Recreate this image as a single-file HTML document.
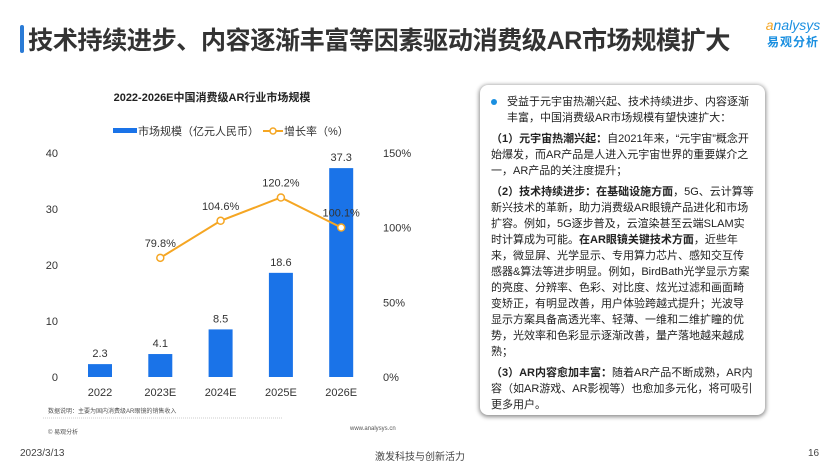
<!DOCTYPE html>
<html><head><meta charset="utf-8">
<style>
body{margin:0;width:840px;height:473px;overflow:hidden;background:#fff;font-family:"Liberation Sans","Noto Sans CJK SC",sans-serif;position:relative}
.abs{position:absolute}
#box p{margin:0 0 5px 0}
</style></head><body>
<div class="abs" style="left:20px;top:25px;width:4px;height:28px;background:#2a7bd6;border-radius:2px"></div>
<div class="abs" style="left:28px;top:21px;font-size:25.2px;font-weight:bold;color:#333;letter-spacing:-0.5px;white-space:nowrap">技术持续进步、内容逐渐丰富等因素驱动消费级AR市场规模扩大</div>
<div class="abs" style="left:758px;top:18px;width:70px;text-align:center;line-height:1">
<div style="font-size:14px;color:#1a8fe0;font-style:italic"><span style="color:#f5a623">a</span>nalysys</div>
<div style="font-size:12px;color:#1a8fe0;font-weight:bold;margin-top:4px;letter-spacing:1px">易观分析</div></div>

<svg class="abs" style="left:0;top:0" width="470" height="473">
<text x="212" y="101" text-anchor="middle" font-size="11" font-weight="bold" fill="#222">2022-2026E中国消费级AR行业市场规模</text>
<rect x="113" y="128" width="24" height="5" fill="#1a73e8"/>
<text x="138" y="135" font-size="11" fill="#333">市场规模（亿元人民币）</text>
<line x1="263" y1="131" x2="283" y2="131" stroke="#f5a623" stroke-width="2"/>
<circle cx="273" cy="131" r="3" fill="#fff" stroke="#f5a623" stroke-width="1.5"/>
<text x="284" y="135" font-size="11" fill="#333">增长率（%）</text>
<g id="chart"></g>
<text x="48" y="413" font-size="6" fill="#555">数据说明：主要为国内消费级AR眼镜的销售收入</text>
<line x1="43" y1="418" x2="283" y2="418" stroke="#999" stroke-dasharray="1,1" stroke-width="0.6"/>
<text x="48" y="434" font-size="6" fill="#555">© 易观分析</text>
<text x="350" y="430" font-size="6" fill="#555">www.analysys.cn</text>
</svg>

<div id="box" class="abs" style="left:480px;top:85px;width:263px;height:312px;padding:9px 11px;border-radius:8px;box-shadow:0 1px 4px 1px rgba(0,0,0,0.45);background:#fff;font-size:11px;line-height:16px;color:#222">
<p style="padding-left:16px;position:relative"><span style="position:absolute;left:0;top:5px;width:6px;height:6px;border-radius:3px;background:#1a8fe0"></span>受益于元宇宙热潮兴起、技术持续进步、内容逐渐丰富，中国消费级AR市场规模有望快速扩大：</p>
<p><b>（1）元宇宙热潮兴起：</b>自2021年来，“元宇宙”概念开始爆发，而AR产品是人进入元宇宙世界的重要媒介之一，AR产品的关注度提升；</p>
<p><b>（2）技术持续进步：在基础设施方面</b>，5G、云计算等新兴技术的革新，助力消费级AR眼镜产品进化和市场扩容。例如，5G逐步普及，云渲染甚至云端SLAM实时计算成为可能。<b>在AR眼镜关键技术方面</b>，近些年来，微显屏、光学显示、专用算力芯片、感知交互传感器&amp;算法等进步明显。例如，BirdBath光学显示方案的亮度、分辨率、色彩、对比度、炫光过滤和画面畸变矫正，有明显改善，用户体验跨越式提升；光波导显示方案具备高透光率、轻薄、一维和二维扩瞳的优势，光效率和色彩显示逐渐改善，量产落地越来越成熟；</p>
<p><b>（3）AR内容愈加丰富：</b>随着AR产品不断成熟，AR内容（如AR游戏、AR影视等）也愈加多元化，将可吸引更多用户。</p>
</div>

<div class="abs" style="left:20px;top:448px;font-size:10px;color:#444">2023/3/13</div>
<div class="abs" style="left:375px;top:448px;font-size:10px;color:#444">激发科技与创新活力</div>
<div class="abs" style="left:808px;top:448px;font-size:10px;color:#444">16</div>

<script>
const categories=["2022","2023E","2024E","2025E","2026E"];
const marketSize=[2.3,4.1,8.5,18.6,37.3];
const growthRate=[null,79.8,104.6,120.2,100.1];
const leftTicks=[0,10,20,30,40];
const rightTicks=[0,50,100,150];
const NS="http://www.w3.org/2000/svg";
const g=document.getElementById('chart');
const y0=377,yTop=153;
function yL(v){return y0-(v/40)*(y0-yTop);}
function yR(v){return y0-(v/150)*(y0-yTop);}
function xC(i){return 100+i*60.3;}
function mk(t,a,txt){const e=document.createElementNS(NS,t);for(const k in a)e.setAttribute(k,a[k]);if(txt!=null)e.textContent=txt;g.appendChild(e);return e;}
leftTicks.forEach(v=>{const e=mk('text',{x:58,y:yL(v)+4,'text-anchor':'end','font-size':11,fill:'#333'},v);

});
rightTicks.forEach(v=>{const e=mk('text',{x:383,y:yR(v)+4,'font-size':11,fill:'#333'},v+'%');

});
categories.forEach((c,i)=>{
const b=mk('rect',{x:xC(i)-12,y:yL(marketSize[i]),width:24,height:y0-yL(marketSize[i]),fill:'#1a73e8'});


const l=mk('text',{x:xC(i),y:yL(marketSize[i])-7,'text-anchor':'middle','font-size':11,fill:'#333'},marketSize[i]);


const t=mk('text',{x:xC(i),y:396,'text-anchor':'middle','font-size':11,fill:'#333'},c);


});
let pts=[];growthRate.forEach((v,i)=>{if(v!=null)pts.push([xC(i),yR(v),v]);});
const pl=mk('polyline',{points:pts.map(p=>p[0]+','+p[1]).join(' '),fill:'none',stroke:'#f5a623','stroke-width':2});


pts.forEach(p=>{const c=mk('circle',{cx:p[0],cy:p[1],r:3.5,fill:'#fff',stroke:'#f5a623','stroke-width':1.5});


const t=mk('text',{x:p[0],y:p[1]-11,'text-anchor':'middle','font-size':11,fill:'#333'},p[2].toFixed(1)+'%');

});
</script>
</body></html>
